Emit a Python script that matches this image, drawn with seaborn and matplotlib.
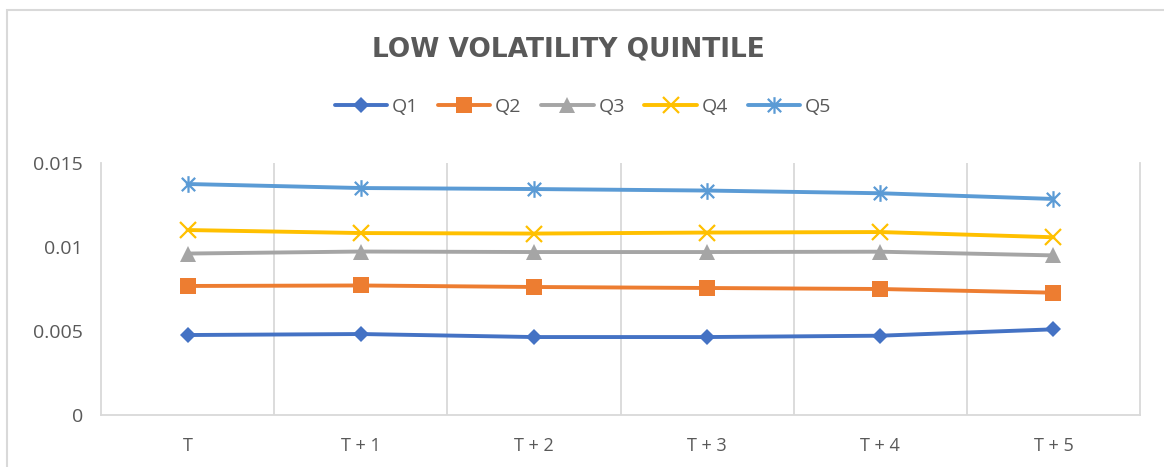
import numpy as np
import pandas as pd
import matplotlib
matplotlib.use("Agg")
import matplotlib.pyplot as plt
from matplotlib.path import Path
from matplotlib.patches import Rectangle
import seaborn as sns

# Data
periods = ["T", "T + 1", "T + 2", "T + 3", "T + 4", "T + 5"]
q1 = [0.00476, 0.00482, 0.00464, 0.00464, 0.00472, 0.00510]
q2 = [0.00768, 0.00771, 0.00762, 0.00756, 0.00750, 0.00728]
q3 = [0.00961, 0.00973, 0.00970, 0.00970, 0.00972, 0.00950]
q4 = [0.01101, 0.01083, 0.01080, 0.01086, 0.01089, 0.01058]
q5 = [0.01375, 0.01351, 0.01345, 0.01336, 0.01320, 0.01286]
series_names = ["Q1", "Q2", "Q3", "Q4", "Q5"]
y_ticks = [0, 0.005, 0.01, 0.015]
y_tick_labels = ["0", "0.005", "0.01", "0.015"]

sns.set_theme(style="white")
plt.rcParams["font.family"] = ["Open Sans", "DejaVu Sans"]

text_color = "#595959"
grid_color = "#D9D9D9"

# asterisk marker: an "x" crossed by a vertical stroke
asterisk = Path(
    [(-1, -1), (1, 1), (-1, 1), (1, -1), (0, -1.25), (0, 1.25)],
    [Path.MOVETO, Path.LINETO, Path.MOVETO, Path.LINETO, Path.MOVETO, Path.LINETO],
)

styles = {
    "Q1": dict(color="#4472C4", marker="D", markersize=8.5, mew=0),
    "Q2": dict(color="#ED7D31", marker="s", markersize=12, mew=0),
    "Q3": dict(color="#A5A5A5", marker="^", markersize=12, mew=0),
    "Q4": dict(color="#FFC000", marker="x", markersize=11, mew=1.6),
    "Q5": dict(color="#5B9BD5", marker=asterisk, markersize=12, mew=1.6),
}

W, H = 1164, 467
fig = plt.figure(figsize=(W / 100, H / 100), dpi=100)
ax = fig.add_axes([101 / W, 52 / H, (1140 - 101) / W, (415 - 163) / H])

x_idx = np.arange(len(periods))
for name, vals in zip(series_names, [q1, q2, q3, q4, q5]):
    st = styles[name]
    sns.lineplot(
        x=x_idx, y=vals, ax=ax, label=name,
        color=st["color"], marker=st["marker"], markersize=st["markersize"],
        markeredgewidth=st["mew"], markeredgecolor=st["color"],
        linewidth=2.8, solid_capstyle="round",
    )

ax.set_xlim(-0.5, len(periods) - 0.5)
ax.set_ylim(0, 0.015)
ax.set_xticks(x_idx)
ax.set_xticklabels(periods)
ax.set_yticks(y_ticks)
ax.set_yticklabels(y_tick_labels)
ax.set_xlabel("")
ax.set_ylabel("")

# vertical gridlines between categories
ax.set_xticks(np.arange(0.5, len(periods) - 0.5, 1.0), minor=True)
ax.grid(False)
ax.grid(which="minor", axis="x", color=grid_color, linewidth=1.3)
ax.tick_params(axis="both", which="both", length=0)
ax.tick_params(axis="x", pad=16, labelsize=13, labelcolor=text_color)
ax.tick_params(axis="y", pad=13, labelsize=14, labelcolor=text_color)

for side in ["left", "right", "bottom"]:
    ax.spines[side].set_color(grid_color)
    ax.spines[side].set_linewidth(1.3)
ax.spines["top"].set_visible(False)

# legend across the top
handles, labels = ax.get_legend_handles_labels()
ax.legend_.remove()
fig.legend(
    handles, labels, loc="center", bbox_to_anchor=(583 / W, 1 - 107 / H),
    ncol=5, frameon=False, fontsize=14, handlelength=2.7, columnspacing=1.0,
    handletextpad=0.25, labelcolor=text_color,
)

fig.text(
    568 / W, 1 - 50 / H, "LOW VOLATILITY QUINTILE", ha="center", va="center",
    fontsize=19, fontweight="bold", color=text_color, family="DejaVu Sans",
)

# chart area border
fig.patches.append(
    Rectangle((7 / W, -0.05), 1.1, 1 - 10 / H + 0.05, transform=fig.transFigure,
              fill=False, edgecolor=grid_color, linewidth=1.5)
)

fig.savefig("out.png", dpi=100, facecolor="white")
